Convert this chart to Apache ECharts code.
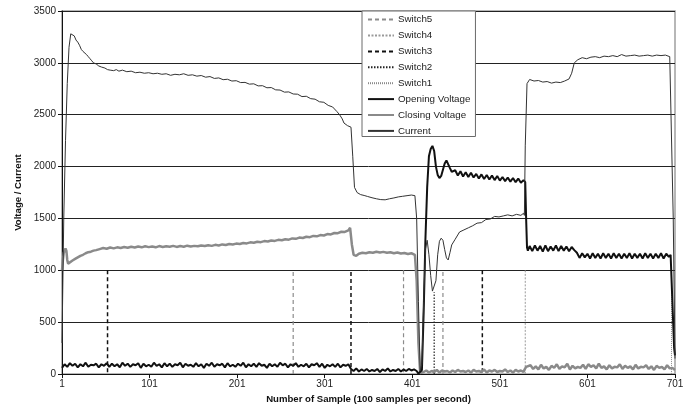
<!DOCTYPE html>
<html>
<head>
<meta charset="utf-8">
<script src="https://cdn.jsdelivr.net/npm/echarts@6/dist/echarts.min.js"></script>
<style>
html,body{margin:0;padding:0;background:#fff;}
#chart{width:693px;height:409px;}
</style>
</head>
<body>
<div id="chart"></div>
<script>
// ---------- DATA (sample number, value) ----------
const seriesNames = ['Switch5','Switch4','Switch3','Switch2','Switch1','Opening Voltage','Closing Voltage','Current'];
const xTickSamples = [1,101,201,301,401,501,601,701];
const yTicks = [0,500,1000,1500,2000,2500,3000,3500];

// Current (thin line)
const currentPts = [
 [1,300],[3,1500],[5,2250],[7,2800],[9,3150],[11,3280],[13,3290],[15,3260],[17,3220],[19,3200],
 [21,3170],[23,3130],[25,3110],[27,3100],[29,3080],[31,3060],[33,3040],[35,3020],[37,3000],[40,2990],
 [43,2970],[46,2960],[50,2950],[53,2935],[56,2930],[60,2925],[63,2935],[66,2920],[70,2930],[75,2915],
 [80,2920],[85,2905],[90,2910],[95,2900],[100,2905],[105,2895],[110,2900],[115,2890],[120,2895],[125,2880],
 [130,2890],[135,2885],[140,2895],[145,2880],[150,2885],[155,2872],[160,2878],[165,2862],[170,2868],[175,2850],
 [180,2855],[185,2838],[190,2842],[195,2825],[200,2828],[205,2810],[210,2812],[215,2795],[220,2798],[225,2778],
 [230,2780],[235,2760],[240,2762],[245,2740],[250,2738],[255,2718],[260,2720],[265,2700],[270,2698],[275,2675],
 [280,2678],[285,2655],[290,2650],[295,2625],[300,2620],[305,2590],[310,2575],[315,2530],[318,2500],[321,2460],
 [323,2420],[325,2410],[327,2395],[329,2400],[331,2380],[333,2100],[335,1800],[338,1750],[342,1730],[346,1722],
 [350,1712],[355,1700],[360,1690],[365,1682],[370,1680],[375,1690],[380,1698],[385,1708],[390,1714],[395,1720],
 [400,1726],[404,1720],[406,1500],[408,700],[410,30],[412,100],[414,700],[416,1200],[418,1290],[420,1150],
 [422,950],[424,800],[426,790],[428,900],[430,1150],[432,1280],[434,1310],[436,1290],[438,1200],[440,1120],
 [442,1100],[444,1170],[446,1245],[450,1300],[455,1370],[460,1390],[465,1410],[470,1430],[475,1455],[480,1460],
 [485,1490],[490,1495],[495,1520],[500,1515],[505,1525],[510,1535],[515,1525],[520,1540],[525,1530],[528,1550],
 [529,1530],[530,2200],[532,2800],[535,2840],[540,2825],[545,2830],[550,2815],[555,2820],[560,2805],[565,2815],
 [570,2810],[575,2825],[580,2845],[583,2900],[586,3000],[590,3030],[595,3050],[600,3040],[605,3055],[610,3060],
 [615,3050],[620,3065],[625,3060],[630,3070],[635,3060],[640,3080],[645,3065],[650,3070],[655,3075],[660,3065],
 [665,3070],[670,3075],[675,3065],[680,3075],[685,3070],[690,3075],[695,3060],[697,3050],[699,1500],[701,150]
];

// Opening Voltage (thick black)
const openLowStart = 1, openLowStep = 3;
const openLow = [
 60,95,70,105,80,100,65,95,75,110,70,90,85,100,65,95,80,105,70,100,
 75,95,65,110,80,100,70,95,85,105,60,100,75,90,70,110,80,95,65,105,
 75,100,70,95,85,110,65,100,80,90,70,105,75,95,60,100,80,110,70,95,
 85,100,65,105,75,90,70,100,80,110,65,95,75,100,70,105,80,90,60,100,
 75,95,70,110,85,100,65,95,80,105,70,90,75,100,65,95,85,105,70,100,
 60,90,75,95,70,100,65,90,80,95,
 50,30,55,25,45,30,50,25,40,30,50,20,45,30,55,25,40,30,50,25,45,30,50,35,45,30
];
const openRisePts = [
 [408,5],[410,0],[412,40],[414,600],[416,1300],[418,1800],[420,2100],[422,2170],[424,2200],[426,2150],
 [428,2000],[430,1920],[432,1890],[434,1910],[436,1970],[438,2030],[440,2060],[442,2045],[444,1985],[446,1950],[448,1945]
];
const openPlateauStart = 450, openPlateauStep = 3;
const openPlateau = [1965,1915,1955,1905,1945,1900,1940,1895,1930,1885,1925,1880,1920,1875,1915,1870,1910,1865,1900,1860,1895,1855,1890,1850,1885,1845,1870];
const openDropPts = [[530,1850],[531,1500],[532,1220],[533,1190]];
const openHighStart = 535, openHighStep = 3;
const openHigh = [
 1235,1185,1240,1190,1235,1180,1240,1185,1230,1190,1240,1185,1235,1190,1230,1185,1225,1195,
 1170,1120,1165,1125,1160,1115,1165,1120,1160,1115,1165,1120,1160,1115,1165,1120,1160,1115,
 1160,1120,1165,1115,1160,1120,1160,1115,1165,1120,1160,1115,1160,1120,1165,1115,1160,1130
];
const openEndPts = [[696,1150],[698,700],[700,250],[701,180]];

// Closing Voltage (thick grey)
const closeStartPts = [[1,1000],[2,1100],[3,1170],[5,1210],[6,1190],[7,1100],[8,1065],[10,1070],[13,1095],[16,1110],[19,1125],[22,1140],[25,1150],[28,1165],[31,1175],[34,1180],[37,1190],[40,1195]];
const closeMainStart = 44, closeMainStep = 4;
const closeMain = [
 1205,1215,1208,1220,1212,1222,1215,1225,1218,1228,1220,1230,1222,1232,1224,1230,1222,1234,1226,1232,
 1228,1236,1226,1234,1228,1238,1230,1236,1232,1240,1234,1242,1236,1246,1240,1250,1244,1254,1250,1258,
 1254,1264,1260,1270,1266,1276,1272,1282,1278,1288,1284,1294,1290,1300,1296,1308,1304,1316,1312,1324,
 1320,1332,1328,1340,1336,1350,1346,1360,1358,1372,1370,1385
];
const closeStepPts = [[330,1410],[332,1250],[334,1150],[337,1140]];
const closeMidStart = 340, closeMidStep = 4;
const closeMid = [1160,1170,1165,1175,1170,1180,1172,1178,1170,1175,1165,1172,1162,1168,1158,1165,1150];
const closeFallPts = [[406,900],[408,300],[410,10],[412,0]];
const closeLowStart = 414, closeLowStep = 3;
const closeLow = [20,35,15,30,20,40,15,35,25,30,15,35,20,40,25,30,20,35,15,40,25,30,20,45,15,35,25,40,20,30,25,45,20,35,15,40,25,35,20];
const closeRisePts = [[529,40],[531,70]];
const closeTailStart = 533, closeTailStep = 3;
const closeTail = [60,85,50,75,45,90,55,70,40,80,60,95,50,75,65,100,45,80,55,70,60,90,50,95,70,85,55,100,60,75,45,85,55,70,65,95,50,80,60,75,45,90,55,70,65,85,50,75,40,80,60,70,45,85,55,60];
const closeEndPts = [[701,40]];

// Switch signals: [sample, level before, level after]
const switch5Steps = [[265,0,1000],[391,1000,0],[436,0,1000]];
const switch4Steps = [[530,1000,0]];
const switch3Steps = [[53,1000,0],[331,0,1000],[481,1000,0]];
const switch2Steps = [[426,0,790]];
const switch1Steps = [[697,0,1000]];

// ---------- BUILD ----------
function seg(start, step, vals){ return vals.map((v,i)=>[start+i*step, v]); }
const toX = pts => pts.map(p=>[p[0]-1, p[1]]);
// only the switching edges are visible (the levels lie on the 0 / 1000 grid lines)
function edges(steps){
  const out = [];
  steps.forEach((s,i)=>{
    if(i>0) out.push([s[0]-1.5, '-']);
    out.push([s[0]-1, s[1]]); out.push([s[0]-1, s[2]]);
  });
  return out;
}

const currentData = toX(currentPts);
const openingData = toX([].concat(seg(openLowStart,openLowStep,openLow), openRisePts, seg(openPlateauStart,openPlateauStep,openPlateau), openDropPts, seg(openHighStart,openHighStep,openHigh), openEndPts));
const closingData = toX([].concat(closeStartPts, seg(closeMainStart,closeMainStep,closeMain), closeStepPts, seg(closeMidStart,closeMidStep,closeMid), closeFallPts, seg(closeLowStart,closeLowStep,closeLow), closeRisePts, seg(closeTailStart,closeTailStep,closeTail), closeEndPts));

const FONT = "'Liberation Sans', Arial, sans-serif";
function lineSeries(name, data, color, width, type, z){
  return {name, type:'line', data, symbol:'none', showSymbol:false, animation:false, z, connectNulls:false,
    lineStyle:{color, width, type}, itemStyle:{color}};
}

const chart = echarts.init(document.getElementById('chart'), null, {renderer:'canvas'});
chart.setOption({
  animation:false,
  backgroundColor:'#fff',
  textStyle:{fontFamily:FONT},
  grid:{left:62, right:18, top:11, bottom:32, show:true, borderColor:'#a0a0a0', borderWidth:1.5, backgroundColor:'transparent'},
  legend:{
    orient:'vertical', left:362, top:11,
    data:seriesNames,
    backgroundColor:'#fff', borderColor:'#6a6a6a', borderWidth:1,
    padding:[3,5,0,5], itemGap:4.7, itemWidth:26, itemHeight:14,
    itemStyle:{opacity:0},
    textStyle:{fontFamily:FONT, fontSize:9.8, color:'#222', padding:[0,0,0,-1]}
  },
  xAxis:{
    type:'value', min:0, max:700, interval:100,
    name:'Number of Sample (100 samples per second)', nameLocation:'middle', nameGap:17,
    nameTextStyle:{fontFamily:FONT, fontSize:9.6, fontWeight:'bold', color:'#111'},
    axisLine:{lineStyle:{color:'#111', width:1}},
    axisTick:{show:true, length:4, lineStyle:{color:'#111'}},
    axisLabel:{fontFamily:FONT, fontSize:10, color:'#222', margin:5, formatter:v=>String(xTickSamples[Math.round(v/100)])},
    splitLine:{show:false}
  },
  yAxis:{
    type:'value', min:yTicks[0], max:yTicks[yTicks.length-1], interval:500,
    name:'Voltage / Current', nameLocation:'middle', nameGap:35,
    nameTextStyle:{fontFamily:FONT, fontSize:9.6, fontWeight:'bold', color:'#111'},
    axisLine:{show:true, lineStyle:{color:'#111', width:1}},
    axisTick:{show:true, length:4, lineStyle:{color:'#111'}},
    axisLabel:{fontFamily:FONT, fontSize:10, color:'#222', margin:6, formatter:v=>String(v)},
    splitLine:{show:true, lineStyle:{color:'#222', width:1}}
  },
  series:[
    lineSeries('Switch5', edges(switch5Steps), '#8c8c8c', 1.2, [4,3], 3),
    lineSeries('Switch4', edges(switch4Steps), '#9a9a9a', 1, [2,1.5], 3),
    lineSeries('Switch3', edges(switch3Steps), '#111', 1.5, [4,3], 3),
    lineSeries('Switch2', edges(switch2Steps), '#222', 1.2, [1.5,1.5], 3),
    lineSeries('Switch1', edges(switch1Steps), '#8a8a8a', 1, [1,1], 3),
    lineSeries('Opening Voltage', openingData, '#111', 2, 'solid', 5),
    lineSeries('Closing Voltage', closingData, '#8a8a8a', 2.5, 'solid', 4),
    lineSeries('Current', currentData, '#333', 1, 'solid', 6)
  ]
});
</script>
</body>
</html>
